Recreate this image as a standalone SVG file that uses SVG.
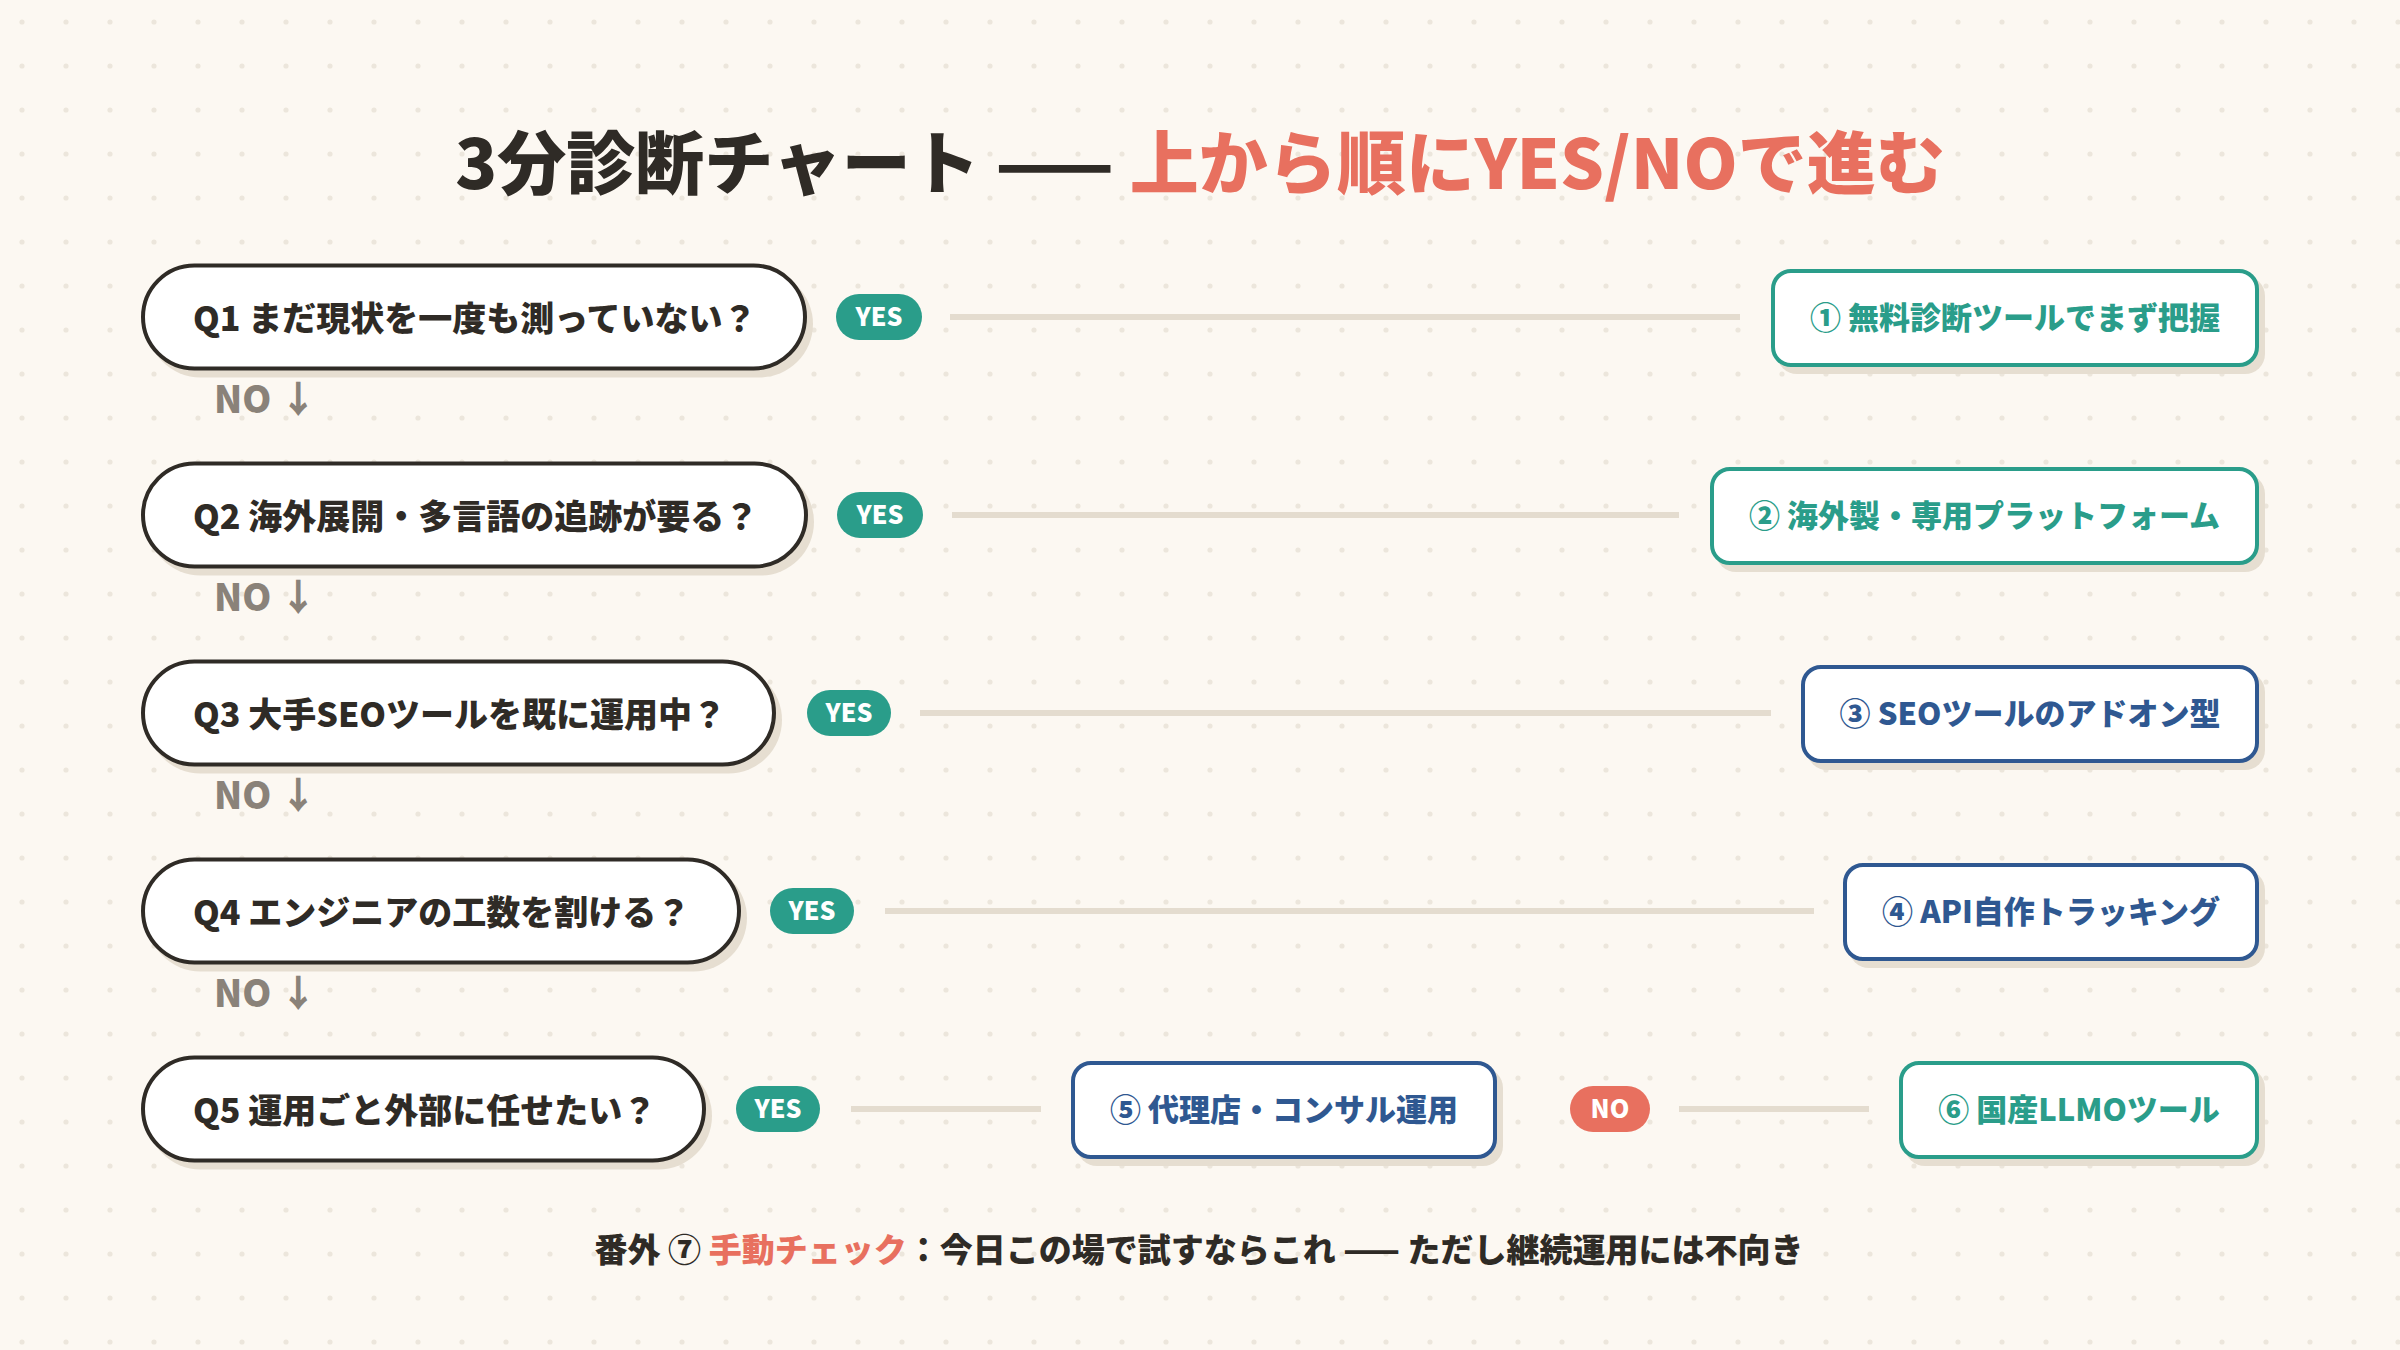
<svg xmlns="http://www.w3.org/2000/svg" width="2400" height="1350" viewBox="0 0 2400 1350">
<defs>
<pattern id="dots" width="44" height="44" patternUnits="userSpaceOnUse">
<circle cx="22" cy="22" r="2.6" fill="#ece6dc"/>
</pattern>
<style>
text{font-family:"Noto Sans CJK JP","Noto Sans",sans-serif;font-weight:900}
.title{font-size:69px;fill:#2f2b26}
.coral{fill:#e8705f}
.q{font-size:34px;fill:#2f2b26}
.pill{fill:#ffffff;stroke:#2f2b26;stroke-width:4}
.shadow{fill:#e6ded1}
.badge-yes{fill:#2a9d8a}
.badge-no{fill:#e8705f}
.bt{font-size:25px;fill:#ffffff;text-anchor:middle}
.no{font-size:37px;fill:#8a8279}
.conn{stroke:#e4dccf;stroke-width:6;fill:none}
.box{fill:#ffffff;stroke-width:4}
.teal{stroke:#2a9d8a}
.blue{stroke:#2f5891}
.rt{font-size:31px;text-anchor:middle}
.rteal{fill:#2a9d8a}
.rblue{fill:#2f5891}
.foot{font-size:33px;fill:#2f2b26}
</style>
</defs>
<rect width="2400" height="1350" fill="#fcf8f2"/>
<rect width="2400" height="1350" fill="url(#dots)"/>

<g id="title">
<text class="title" x="1200" y="189" text-anchor="middle">3分診断チャート —— <tspan class="coral">上から順にYES/NOで進む</tspan></text>
</g>

<g id="connectors">
<line class="conn" x1="950" y1="317" x2="1740" y2="317"/>
<line class="conn" x1="952" y1="515" x2="1679" y2="515"/>
<line class="conn" x1="920" y1="713" x2="1771" y2="713"/>
<line class="conn" x1="885" y1="911" x2="1814" y2="911"/>
<line class="conn" x1="851" y1="1109" x2="1041" y2="1109"/>
<line class="conn" x1="1679" y1="1109" x2="1869" y2="1109"/>
</g>

<g id="q1">
<rect class="shadow" x="147" y="270.5" width="666" height="107" rx="53.5"/>
<rect class="pill" x="143" y="265.5" width="662" height="103" rx="51.5"/>
<text class="q" x="193" y="331">Q1 まだ現状を一度も測っていない？</text>
<text class="no" x="214" y="413">NO ↓</text>
</g>
<g id="yes1">
<rect class="badge-yes" x="836" y="294" width="86" height="46" rx="23"/>
<text class="bt" x="879" y="326">YES</text>
</g>

<g id="q2">
<rect class="shadow" x="147" y="468.5" width="667" height="107" rx="53.5"/>
<rect class="pill" x="143" y="463.5" width="663" height="103" rx="51.5"/>
<text class="q" x="193" y="529">Q2 海外展開・多言語の追跡が要る？</text>
<text class="no" x="214" y="611">NO ↓</text>
</g>
<g id="yes2">
<rect class="badge-yes" x="837" y="492" width="86" height="46" rx="23"/>
<text class="bt" x="880" y="524">YES</text>
</g>

<g id="q3">
<rect class="shadow" x="147" y="666.5" width="635" height="107" rx="53.5"/>
<rect class="pill" x="143" y="661.5" width="631" height="103" rx="51.5"/>
<text class="q" x="193" y="727">Q3 大手SEOツールを既に運用中？</text>
<text class="no" x="214" y="809">NO ↓</text>
</g>
<g id="yes3">
<rect class="badge-yes" x="807" y="690" width="84" height="46" rx="23"/>
<text class="bt" x="849" y="722">YES</text>
</g>

<g id="q4">
<rect class="shadow" x="147" y="864.5" width="600" height="107" rx="53.5"/>
<rect class="pill" x="143" y="859.5" width="596" height="103" rx="51.5"/>
<text class="q" x="193" y="925">Q4 エンジニアの工数を割ける？</text>
<text class="no" x="214" y="1007">NO ↓</text>
</g>
<g id="yes4">
<rect class="badge-yes" x="770" y="888" width="84" height="46" rx="23"/>
<text class="bt" x="812" y="920">YES</text>
</g>

<g id="q5">
<rect class="shadow" x="147" y="1062.5" width="565" height="107" rx="53.5"/>
<rect class="pill" x="143" y="1057.5" width="561" height="103" rx="51.5"/>
<text class="q" x="193" y="1123">Q5 運用ごと外部に任せたい？</text>
</g>
<g id="yes5">
<rect class="badge-yes" x="736" y="1086" width="84" height="46" rx="23"/>
<text class="bt" x="778" y="1118">YES</text>
</g>
<g id="no5">
<rect class="badge-no" x="1570" y="1086" width="80" height="46" rx="23"/>
<text class="bt" x="1610" y="1118">NO</text>
</g>

<g id="r1">
<rect class="shadow" x="1777" y="276" width="488" height="98" rx="20"/>
<rect class="box teal" x="1773" y="271" width="484" height="94" rx="18"/>
<text class="rt rteal" x="2015" y="329">① 無料診断ツールでまず把握</text>
</g>
<g id="r2">
<rect class="shadow" x="1716" y="474" width="549" height="98" rx="20"/>
<rect class="box teal" x="1712" y="469" width="545" height="94" rx="18"/>
<text class="rt rteal" x="1984.5" y="527">② 海外製・専用プラットフォーム</text>
</g>
<g id="r3">
<rect class="shadow" x="1807" y="672" width="458" height="98" rx="20"/>
<rect class="box blue" x="1803" y="667" width="454" height="94" rx="18"/>
<text class="rt rblue" x="2030" y="725">③ SEOツールのアドオン型</text>
</g>
<g id="r4">
<rect class="shadow" x="1849" y="870" width="416" height="98" rx="20"/>
<rect class="box blue" x="1845" y="865" width="412" height="94" rx="18"/>
<text class="rt rblue" x="2051" y="923">④ API自作トラッキング</text>
</g>
<g id="r5">
<rect class="shadow" x="1077" y="1068" width="426" height="98" rx="20"/>
<rect class="box blue" x="1073" y="1063" width="422" height="94" rx="18"/>
<text class="rt rblue" x="1284" y="1121">⑤ 代理店・コンサル運用</text>
</g>
<g id="r6">
<rect class="shadow" x="1905" y="1068" width="360" height="98" rx="20"/>
<rect class="box teal" x="1901" y="1063" width="356" height="94" rx="18"/>
<text class="rt rteal" x="2079" y="1121">⑥ 国産LLMOツール</text>
</g>

<g id="footer">
<text class="foot" x="1199" y="1262" text-anchor="middle">番外 ⑦ <tspan class="coral">手動チェック</tspan>：今日この場で試すならこれ —— ただし継続運用には不向き</text>
</g>
</svg>
